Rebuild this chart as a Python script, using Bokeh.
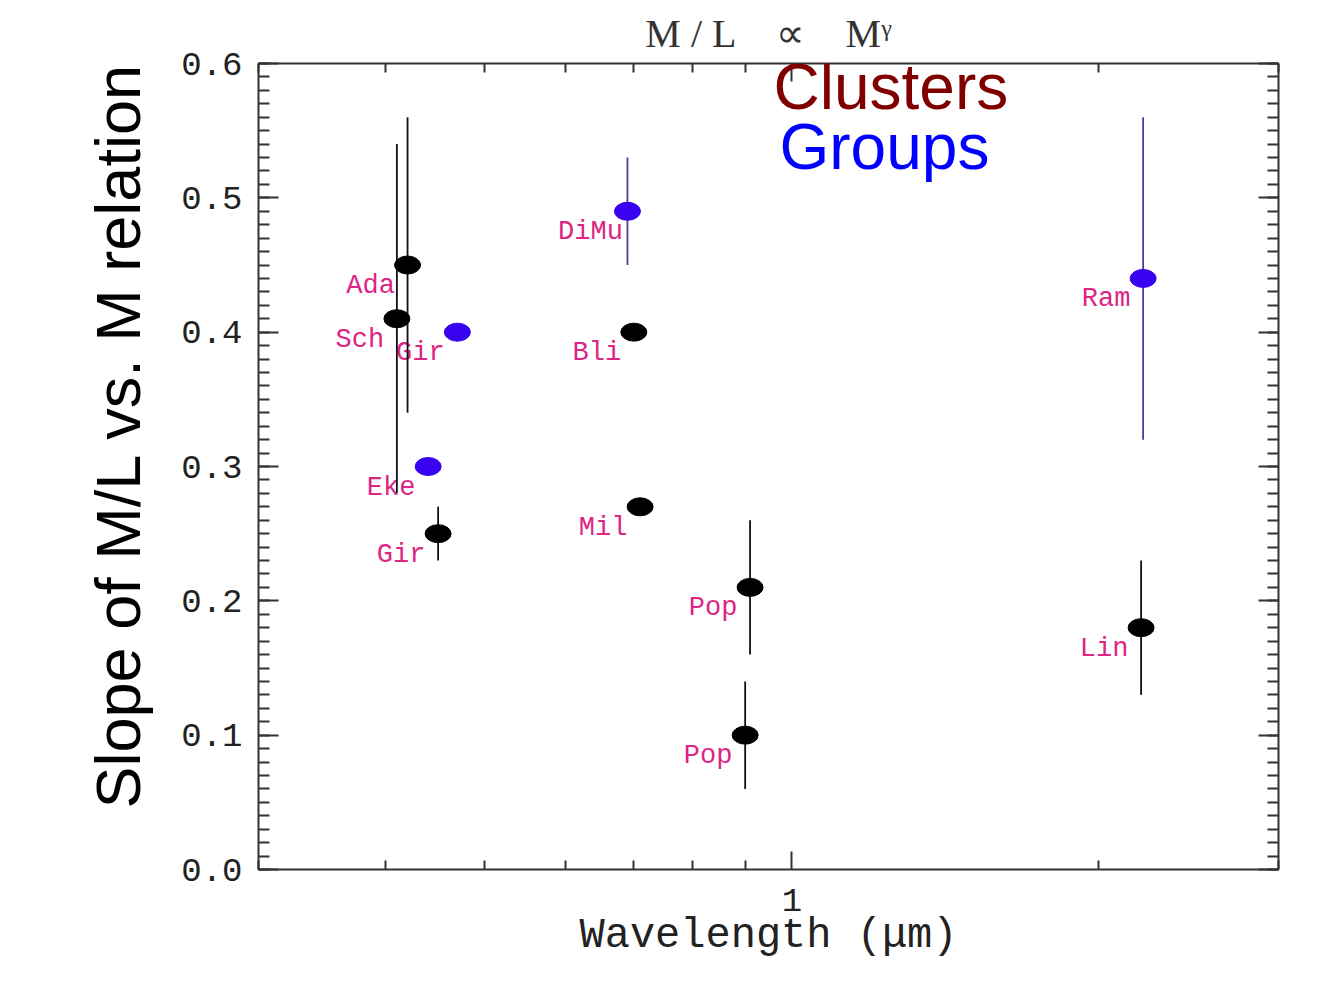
from bokeh.plotting import figure
from bokeh.models import (ColumnDataSource, FixedTicker, LinearAxis, LogAxis,
                          PrintfTickFormatter, Label, Title)
from bokeh.core.properties import value
from bokeh.embed import file_html
from bokeh.resources import INLINE

nan = float("nan")

# ---- data ----
cluster_names = ["Ada", "Sch", "Gir", "Bli", "Mil", "Pop", "Pop", "Lin"]
cluster_wave = [0.42, 0.41, 0.45, 0.70, 0.71, 0.91, 0.90, 2.20]
cluster_slope = [0.45, 0.41, 0.25, 0.40, 0.27, 0.21, 0.10, 0.18]
cluster_lo = [0.34, 0.28, 0.23, nan, nan, 0.16, 0.06, 0.13]
cluster_hi = [0.56, 0.54, 0.27, nan, nan, 0.26, 0.14, 0.23]

group_names = ["Gir", "Eke", "DiMu", "Ram"]
group_wave = [0.47, 0.44, 0.69, 2.21]
group_slope = [0.40, 0.30, 0.49, 0.44]
group_lo = [nan, nan, 0.45, 0.32]
group_hi = [nan, nan, 0.53, 0.56]

x_major = [1]
x_minor = [0.3, 0.4, 0.5, 0.6, 0.7, 0.8, 0.9, 2, 3]
y_major = [0.0, 0.1, 0.2, 0.3, 0.4, 0.5, 0.6]
y_minor = [i / 100 for i in range(61)]

AXC = "#333333"
LABC = "#dc2584"
BLUE = "#3a00f0"

p = figure(width=1318, height=966, x_axis_type="log", x_range=(0.3, 3), y_range=(0, 0.6),
           output_backend="svg", toolbar_location=None,
           min_border_left=258, min_border_right=40, min_border_top=63, min_border_bottom=97)
p.outline_line_color = None
p.grid.visible = False
p.background_fill_color = "white"
p.border_fill_color = "white"

p.title.text = "M\u2005/\u2005L\u2003∝\u2003Mᵞ"
p.title.align = "center"
p.title.text_font = "Liberation Serif"
p.title.text_font_size = "40px"
p.title.text_font_style = "normal"
p.title.text_color = "#333333"
p.title.standoff = 15


def style_axis(ax, maj, mnr):
    ax.axis_line_color = AXC
    ax.axis_line_width = 2
    ax.major_tick_line_color = AXC
    ax.major_tick_line_width = 2
    ax.minor_tick_line_color = AXC
    ax.minor_tick_line_width = 2
    ax.major_tick_in = maj
    ax.major_tick_out = 0
    ax.minor_tick_in = mnr
    ax.minor_tick_out = 0


# bottom axis
xa = p.xaxis[0]
xa.ticker = FixedTicker(ticks=x_major, minor_ticks=x_minor)
xa.formatter = PrintfTickFormatter(format="%d")
style_axis(xa, 18, 9)
xa.major_label_text_font = "Liberation Mono"
xa.major_label_text_font_size = "34px"
xa.major_label_text_color = "#222222"
xa.major_label_standoff = 19
xa.axis_label = "Wavelength (μm)"
xa.axis_label_text_font = "Liberation Mono"
xa.axis_label_text_font_style = "normal"
xa.axis_label_text_font_size = "42px"
xa.axis_label_text_color = "#222222"
xa.axis_label_standoff = -2

# left axis
ya = p.yaxis[0]
ya.ticker = FixedTicker(ticks=y_major, minor_ticks=y_minor)
ya.formatter = PrintfTickFormatter(format="%.1f")
style_axis(ya, 20, 11)
ya.major_label_text_font = "Liberation Mono"
ya.major_label_text_font_size = "34px"
ya.major_label_text_color = "#222222"
ya.major_label_standoff = 16

# top and right axes (ticks only)
top = LogAxis(ticker=FixedTicker(ticks=x_major, minor_ticks=x_minor),
              formatter=PrintfTickFormatter(format="%d"), major_label_standoff=0,
              major_label_text_alpha=0, major_label_text_font_size="1px")
style_axis(top, 18, 9)
p.add_layout(top, "above")
right = LinearAxis(ticker=FixedTicker(ticks=y_major, minor_ticks=y_minor),
                   formatter=PrintfTickFormatter(format="%.1f"), major_label_standoff=0,
                   major_label_text_alpha=0, major_label_text_font_size="1px")
style_axis(right, 20, 11)
p.add_layout(right, "right")

# y axis title as a side title
ytitle = Title(text="Slope of M/L vs. M relation", align="left", offset=61,
               text_font="Liberation Sans", text_font_size="63px",
               text_font_style="normal", text_color="black", standoff=52)
p.add_layout(ytitle, "left")

csrc = ColumnDataSource(dict(x=cluster_wave, y=cluster_slope, lo=cluster_lo,
                             hi=cluster_hi, name=cluster_names))
gsrc = ColumnDataSource(dict(x=group_wave, y=group_slope, lo=group_lo,
                             hi=group_hi, name=group_names))

for src in (csrc, gsrc):
    p.text(x="x", y="y", text="name", source=src, x_offset=-37, y_offset=21,
           text_align="center", text_baseline="middle", text_color=LABC,
           text_font=value("Liberation Mono"), text_font_size="27px")

p.segment(x0="x", y0="lo", x1="x", y1="hi", source=csrc, line_color="#111111", line_width=1.8)
p.segment(x0="x", y0="lo", x1="x", y1="hi", source=gsrc, line_color="#4a3fa0", line_width=1.8)

p.ellipse(x="x", y="y", width=26, height=18, width_units="screen", height_units="screen",
          source=csrc, fill_color="black", line_color="black")
p.ellipse(x="x", y="y", width=26, height=18, width_units="screen", height_units="screen",
          source=gsrc, fill_color=BLUE, line_color=BLUE)

# legend-like texts (canvas pixel anchors)
p.add_layout(Label(x=773, y=86, x_units="canvas", y_units="canvas", text="Clusters",
                   text_font="Liberation Sans", text_font_size="64px", text_color="#800000",
                   text_align="left", text_baseline="alphabetic"))
p.add_layout(Label(x=779, y=146, x_units="canvas", y_units="canvas", text="Groups",
                   text_font="Liberation Sans", text_font_size="64px", text_color="#0000ff",
                   text_align="left", text_baseline="alphabetic"))

open("out.html", "w").write(file_html(p, INLINE))
